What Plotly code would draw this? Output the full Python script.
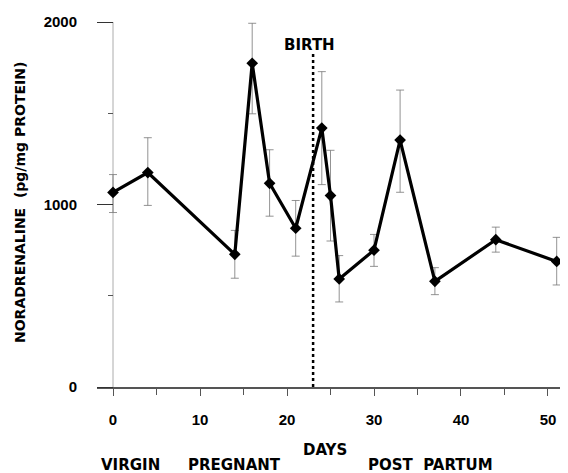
import plotly.graph_objects as go

days = [0, 4, 14, 16, 18, 21, 24, 25, 26, 30, 33, 37, 44, 51]
noradrenaline = [1066, 1175, 727, 1774, 1116, 870, 1419, 1049, 592, 750, 1353, 579, 807, 688]
err_upper = [1164, 1366, 858, 1993, 1300, 1022, 1728, 1297, 720, 836, 1627, 654, 876, 820]
err_lower = [956, 995, 596, 1497, 936, 717, 1109, 800, 466, 661, 1067, 506, 739, 559]
birth_day = 23
birth_top = 1825
x_ticks = [0, 10, 20, 30, 40, 50]
y_ticks = [0, 1000, 2000]
phase_labels = ["VIRGIN", "PREGNANT", "POST\u00a0\u00a0PARTUM"]
phase_centers = [2, 14, 36.5]

plus = [u - v for u, v in zip(err_upper, noradrenaline)]
minus = [v - l for v, l in zip(noradrenaline, err_lower)]

NUMFONT = dict(family="Liberation Sans", size=15, color="black", weight="bold")
TXTFONT = dict(family="DejaVu Sans", size=15, color="black", weight="bold")
TITLEFONT = dict(family="DejaVu Sans", size=14, color="black", weight="bold")

# page body has an 8px margin; figure laid out accordingly
OFF = 8
PLOT_LEFT, PLOT_RIGHT, PLOT_TOP, PLOT_BOTTOM = 97, 568, 22, 387
W, H = 560, 465

fig = go.Figure()

fig.add_shape(type="line", x0=0, x1=0, y0=0, y1=2000, xref="x", yref="y",
              line=dict(color="#c8c8c8", width=1.5), layer="below")
fig.add_shape(type="line", x0=birth_day, x1=birth_day, y0=0, y1=birth_top, xref="x", yref="y",
              line=dict(color="black", width=2.5, dash="dot"))

fig.add_trace(go.Scatter(
    x=days, y=noradrenaline, mode="lines+markers",
    line=dict(color="black", width=3.2),
    marker=dict(symbol="diamond", size=9, color="black"),
    error_y=dict(type="data", symmetric=False, array=plus, arrayminus=minus,
                 color="#777777", thickness=0.8, width=4),
    showlegend=False,
))

fig.update_layout(
    width=W, height=H,
    margin=dict(l=PLOT_LEFT - OFF, r=W + OFF - PLOT_RIGHT, t=PLOT_TOP - OFF, b=H + OFF - PLOT_BOTTOM),
    paper_bgcolor="white", plot_bgcolor="white",
    xaxis=dict(range=[-1.84, 52.3], tickmode="array", tickvals=x_ticks,
               ticktext=[str(t) for t in x_ticks],
               showgrid=False, zeroline=False, showline=True, linecolor="#555555", linewidth=1.5,
               ticks="outside", ticklen=7, tickcolor="#555555", tickwidth=1,
               minor=dict(dtick=5, tick0=0, ticks="outside", ticklen=6, tickcolor="#555555"),
               tickfont=NUMFONT, ticklabelstandoff=11),
    yaxis=dict(range=[0, 2000], tickmode="array", tickvals=y_ticks,
               ticktext=[str(t) for t in y_ticks],
               anchor="free", position=(113 - PLOT_LEFT) / (PLOT_RIGHT - PLOT_LEFT),
               showgrid=False, zeroline=False, showline=False,
               ticks="outside", ticklen=16, tickcolor="#333333", tickwidth=1.2,
               minor=dict(dtick=500, tick0=0, ticks="outside", ticklen=5, tickcolor="#555555"),
               tickfont=NUMFONT, ticklabelstandoff=17),
)

pw = PLOT_RIGHT - PLOT_LEFT
ph = PLOT_BOTTOM - PLOT_TOP
annotations = [
    dict(text="BIRTH", x=birth_day - 0.4, y=45, xref="x", yref="paper", showarrow=False, font=TXTFONT),
    dict(text="DAYS", x=(325 - PLOT_LEFT) / pw, y=450, xref="paper", yref="paper", showarrow=False, font=TXTFONT),
    dict(text="NORADRENALINE\u00a0\u00a0(pg/mg PROTEIN)", x=(20 - PLOT_LEFT) / pw, y=203,
         xref="paper", yref="paper", textangle=-90, showarrow=False, font=TITLEFONT),
]
for lab, c in zip(phase_labels, phase_centers):
    annotations.append(dict(text=lab, x=c, y=465, xref="x", yref="paper", showarrow=False, font=TXTFONT))

for a in annotations:
    if a["yref"] == "paper":
        a["y"] = (PLOT_BOTTOM - a["y"]) / ph
        a["yanchor"] = "middle"
    a["xanchor"] = "center"
fig.update_layout(annotations=annotations)

fig.write_html("out.html")
